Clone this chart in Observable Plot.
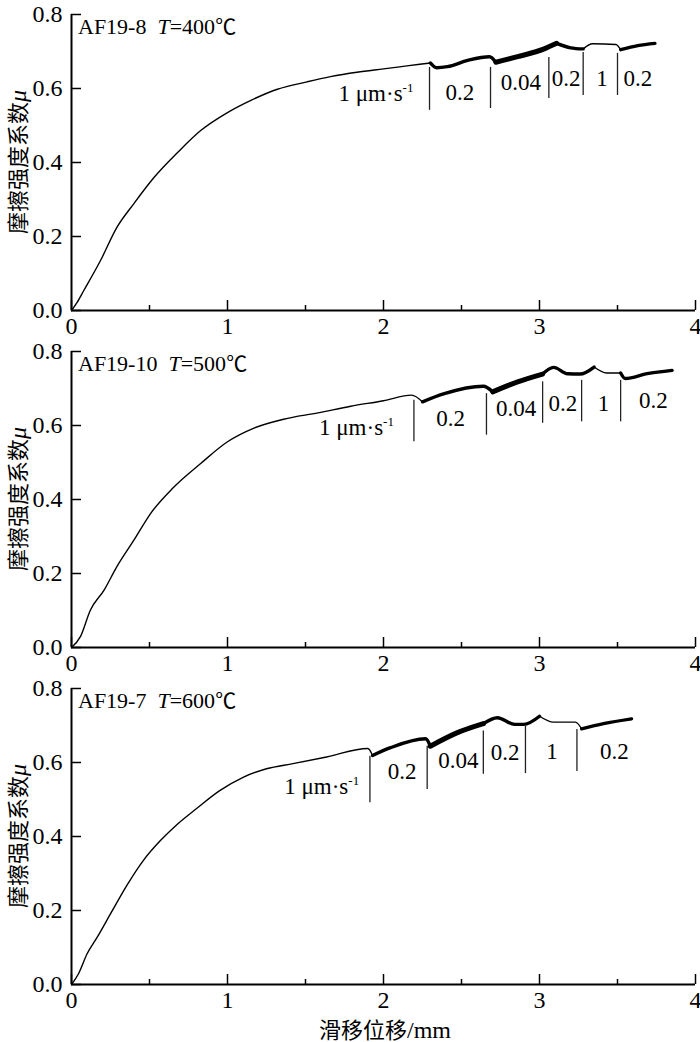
<!DOCTYPE html>
<html><head><meta charset="utf-8">
<script src="https://cdn.jsdelivr.net/npm/d3@7"></script>
<script src="https://cdn.jsdelivr.net/npm/@observablehq/plot@0.6"></script>
<style>
html,body{margin:0;padding:0;background:#fff;}
#chart{width:700px;height:1042px;overflow:hidden;}
#chart svg{display:block;}
</style></head><body><div id="chart"></div>
<script>
// ---- data ----
const samples = ["AF19-8", "AF19-10", "AF19-7"];
const temps = ["400", "500", "600"];
const xLabel = "滑移位移";
const xUnit = "/mm";
const yLabel = "摩擦强度系数";
const yVar = "μ";
const unitText = "1 μm·s";
const unitSup = "-1";
const speedLabels = ["0.2", "0.04", "0.2", "1", "0.2"];
const xTicks = [0, 1, 2, 3, 4];
const xMinor = [0.5, 1.5, 2.5, 3.5];
const yTicks = [0, 0.2, 0.4, 0.6, 0.8];

// 400 ℃
const p1X = [0, 0.036, 0.079, 0.186, 0.29, 0.40, 0.53, 0.68, 0.83, 1.0, 1.15, 1.32, 1.51, 1.66, 1.83, 2.0, 2.15, 2.30, 2.34, 2.41, 2.54, 2.68, 2.72, 2.86, 3.03, 3.11, 3.20, 3.28, 3.34, 3.49, 3.52, 3.63, 3.74];
const p1Y = [0, 0.022, 0.054, 0.135, 0.224, 0.289, 0.36, 0.427, 0.487, 0.535, 0.568, 0.598, 0.618, 0.632, 0.644, 0.653, 0.661, 0.669, 0.656, 0.659, 0.676, 0.686, 0.671, 0.686, 0.707, 0.722, 0.710, 0.707, 0.721, 0.719, 0.705, 0.716, 0.722];
const p1Steps = [2.295, 2.686, 3.06, 3.28, 3.50];
const p1StepLo = [0.541, 0.546, 0.573, 0.581, 0.581];
const p1StepHi = [0.657, 0.657, 0.684, 0.697, 0.695];
const p1LabX = [2.49, 2.88, 3.17, 3.40, 3.63];
const p1LabY = [0.589, 0.616, 0.627, 0.627, 0.627];

// 500 ℃
const p2X = [0, 0.058, 0.12, 0.21, 0.29, 0.40, 0.51, 0.65, 0.83, 1.0, 1.17, 1.36, 1.58, 1.79, 2.0, 2.18, 2.25, 2.39, 2.64, 2.70, 2.86, 3.02, 3.09, 3.18, 3.26, 3.35, 3.43, 3.52, 3.55, 3.69, 3.85];
const p2Y = [0, 0.03, 0.10, 0.156, 0.218, 0.29, 0.364, 0.431, 0.498, 0.556, 0.593, 0.617, 0.634, 0.652, 0.667, 0.682, 0.664, 0.686, 0.706, 0.691, 0.718, 0.739, 0.757, 0.740, 0.739, 0.758, 0.742, 0.742, 0.727, 0.740, 0.749];
const p2Steps = [2.195, 2.66, 3.02, 3.27, 3.52];
const p2StepLo = [0.556, 0.574, 0.606, 0.61, 0.61];
const p2StepHi = [0.668, 0.686, 0.718, 0.722, 0.722];
const p2LabX = [2.43, 2.85, 3.15, 3.41, 3.73];
const p2LabY = [0.619, 0.646, 0.66, 0.66, 0.667];

// 600 ℃
const p3X = [0, 0.045, 0.10, 0.165, 0.25, 0.355, 0.46, 0.57, 0.675, 0.80, 0.95, 1.10, 1.25, 1.42, 1.635, 1.90, 1.93, 2.045, 2.27, 2.30, 2.47, 2.64, 2.73, 2.84, 2.90, 3.00, 3.09, 3.23, 3.27, 3.41, 3.59];
const p3Y = [0, 0.029, 0.083, 0.128, 0.191, 0.268, 0.335, 0.389, 0.432, 0.475, 0.524, 0.560, 0.583, 0.597, 0.615, 0.638, 0.619, 0.640, 0.664, 0.644, 0.680, 0.705, 0.721, 0.703, 0.703, 0.725, 0.709, 0.709, 0.691, 0.705, 0.718];
const p3Steps = [1.913, 2.28, 2.64, 2.91, 3.24];
const p3StepLo = [0.491, 0.527, 0.568, 0.570, 0.576];
const p3StepHi = [0.617, 0.644, 0.685, 0.698, 0.689];
const p3LabX = [2.12, 2.48, 2.78, 3.08, 3.48];
const p3LabY = [0.574, 0.606, 0.626, 0.63, 0.63];

const unitX = [1.955, 1.83, 1.607];
const unitY = [0.586, 0.592, 0.534];

// ---- drawing ----
const panels = [
  {x: p1X, y: p1Y, steps: p1Steps, lo: p1StepLo, hi: p1StepHi, lx: p1LabX, ly: p1LabY},
  {x: p2X, y: p2Y, steps: p2Steps, lo: p2StepLo, hi: p2StepHi, lx: p2LabX, ly: p2LabY},
  {x: p3X, y: p3Y, steps: p3Steps, lo: p3StepLo, hi: p3StepHi, lx: p3LabX, ly: p3LabY}
];
const serif = "'Liberation Serif','Times New Roman',serif";
const cjk = "'Noto Sans CJK SC','Noto Sans CJK JP',sans-serif";
const widthFor = s => s === "0.04" ? 5 : s === "0.2" ? 3.4 : 1.4;
const W = 700, mL = 71, mR = 5, mT = 14, frameH = 296;
const frameW = W - mL - mR;
const container = document.getElementById("chart");

panels.forEach((p, k) => {
  const last = k === panels.length - 1;
  const pts = p.x.map((x, i) => ({x, y: p.y[i]}));
  const bounds = [-Infinity, ...p.steps, Infinity];
  const segSpeeds = ["1", ...speedLabels];
  const lines = segSpeeds.map((s, j) => {
    const idx = pts.map((d, i) => i).filter(i => pts[i].x >= bounds[j] && pts[i].x < bounds[j + 1]);
    if (idx.length && idx[idx.length - 1] < pts.length - 1) idx.push(idx[idx.length - 1] + 1);
    return Plot.line(idx.map(i => pts[i]), {x: "x", y: "y", curve: "monotone-x", stroke: "#000", strokeWidth: widthFor(s), strokeLinejoin: "round", strokeLinecap: "round"});
  });
  const height = last ? 368 : 337;
  const plot = Plot.plot({
    width: W, height,
    marginLeft: mL, marginRight: mR, marginTop: mT, marginBottom: height - mT - frameH,
    x: {domain: [0, 4], label: null},
    y: {domain: [0, 0.8], label: null},
    style: {fontFamily: serif, fontSize: "24px", color: "#000", background: "white", overflow: "visible"},
    marks: [
      Plot.axisY(yTicks, {tickSize: 0, tickPadding: 9, tickFormat: d3.format(".1f"), fontSize: 24, fontFamily: serif, label: null}),
      Plot.axisX(xTicks, {tickSize: 0, tickPadding: 6, tickFormat: d3.format("d"), fontSize: 24, fontFamily: serif, label: null}),
      // inward ticks
      Plot.ruleY(yTicks, {y: d => d, insetRight: frameW - 10, stroke: "#000", strokeWidth: 1.5}),
      Plot.ruleX(xTicks, {x: d => d, insetTop: frameH - 10, stroke: "#000", strokeWidth: 1.5}),
      Plot.ruleX(xMinor, {x: d => d, insetTop: frameH - 5, stroke: "#000", strokeWidth: 1.5}),
      Plot.ruleX([0], {strokeWidth: 2}),
      Plot.ruleY([0], {strokeWidth: 2}),
      ...lines,
      Plot.ruleX(p.steps, {x: d => d, y1: (d, i) => p.lo[i], y2: (d, i) => p.hi[i], stroke: "#222", strokeWidth: 1.3}),
      Plot.text(speedLabels, {x: (d, i) => p.lx[i], y: (d, i) => p.ly[i], text: d => d, fontSize: 23, fontFamily: serif, fill: "#000"})
    ]
  });
  container.appendChild(plot);
  const sx = plot.scale("x").apply, sy = plot.scale("y").apply;
  const svg = d3.select(plot);

  // title
  const t = svg.append("text")
    .attr("x", sx(0) + 7).attr("y", sy(0.8) + 20)
    .attr("text-anchor", "start")
    .attr("font-family", serif).attr("font-size", 22).attr("fill", "#000")
    .style("white-space", "pre");
  t.append("tspan").text(samples[k] + "\u00a0\u00a0");
  t.append("tspan").attr("font-style", "italic").text("T");
  t.append("tspan").text("=" + temps[k]);
  t.append("tspan").attr("font-family", cjk).attr("font-size", 21).text("℃");

  // unit label
  const u = svg.append("text")
    .attr("x", sx(unitX[k])).attr("y", sy(unitY[k])).attr("dy", "0.32em")
    .attr("text-anchor", "middle")
    .attr("font-family", serif).attr("font-size", 23).attr("fill", "#000");
  u.append("tspan").text(unitText);
  u.append("tspan").attr("font-size", 13).attr("dy", -9).text(unitSup);

  // y label
  const yl = svg.append("text")
    .attr("transform", `translate(18,${(sy(0) + sy(0.8)) / 2}) rotate(-90)`)
    .attr("text-anchor", "middle").attr("dy", "0.36em")
    .attr("font-size", 22).attr("fill", "#000");
  yl.append("tspan").attr("font-family", cjk).text(yLabel);
  yl.append("tspan").attr("font-family", serif).attr("font-style", "italic").attr("font-size", 24).text(yVar);

  if (last) {
    const xl = svg.append("text")
      .attr("x", (sx(0) + sx(4)) / 2 + 2).attr("y", sy(0) + 54)
      .attr("text-anchor", "middle").attr("font-size", 22).attr("fill", "#000");
    xl.append("tspan").attr("font-family", cjk).text(xLabel);
    xl.append("tspan").attr("font-family", serif).attr("font-size", 24).text(xUnit);
  }
});
</script></body></html>
